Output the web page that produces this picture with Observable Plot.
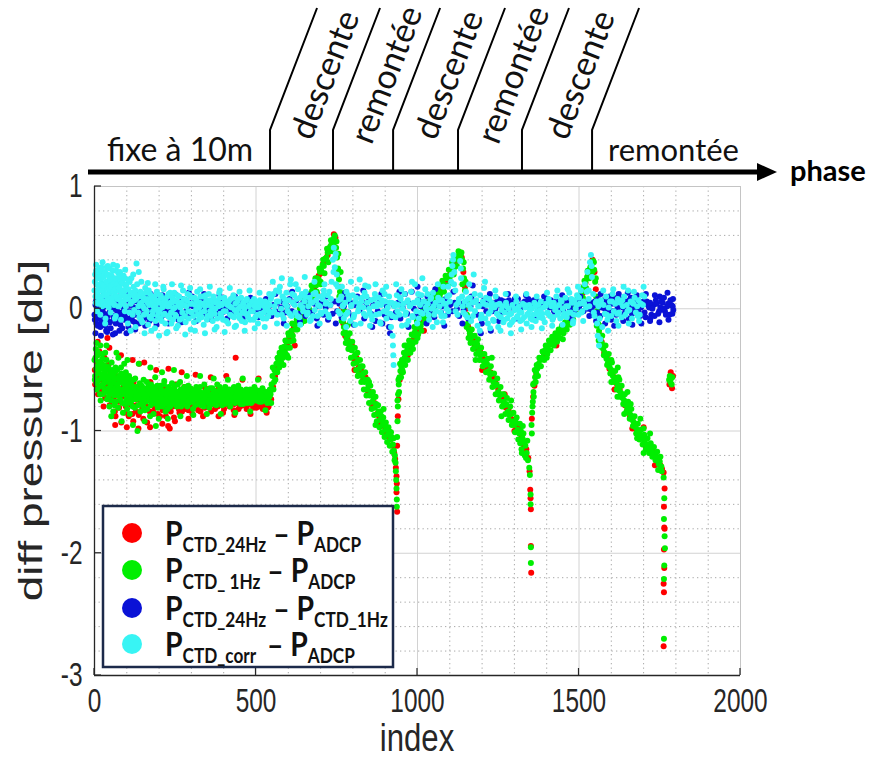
<!DOCTYPE html>
<html><head><meta charset="utf-8">
<script src="https://cdn.jsdelivr.net/npm/d3@7"></script>
<script src="https://cdn.jsdelivr.net/npm/@observablehq/plot@0.6"></script>
<style>body{margin:0;background:#fff;overflow:hidden}</style>
</head><body><div id="chart"></div>
<script>
// ---- axis / layout values ----
const xTicks = [0, 500, 1000, 1500, 2000];
const yTicks = [-3, -2, -1, 0, 1];
const xMinor = [100,200,300,400,600,700,800,900,1100,1200,1300,1400,1600,1700,1800,1900];
const yMinor = [-2.8,-2.6,-2.4,-2.2,-1.8,-1.6,-1.4,-1.2,-0.8,-0.6,-0.4,-0.2,0.2,0.4,0.6,0.8];
const phaseBounds = [545, 740, 926, 1127, 1325, 1542];
const phaseNames = ["fixe à 10m","descente","remontée","descente","remontée","descente","remontée"];
const seriesColors = ["#ff0000", "#00ee00", "#0a12d6", "#38f4f4"];

// ---- P_CTD_24Hz - P_ADCP (red) ----
const redPts = [[1,-0.50],[5,-0.60],[9,-0.36],[13,-0.57],[17,-0.66],[21,-0.45],[26,-0.55],[31,-0.40],[35,-0.63],[40,-0.24],[45,-0.66],[49,-0.52],[54,-0.74],[58,-0.61],[63,-0.84],[67,-0.55],[72,-0.67],[76,-0.81],[81,-0.59],[85,-0.72],[90,-0.64],[94,-0.85],[99,-0.68],[103,-0.57],[108,-0.76],[113,-0.66],[117,-0.86],[121,-0.60],[125,-0.72],[129,-0.79],[134,-0.64],[139,-0.45],[143,-0.75],[148,-0.82],[153,-0.67],[158,-0.74],[163,-0.93],[168,-0.68],[173,-0.60],[178,-0.78],[183,-0.85],[188,-0.70],[193,-0.64],[198,-0.77],[203,-0.88],[208,-0.71],[213,-0.65],[218,-0.79],[223,-0.72],[228,-0.96],[233,-0.98],[238,-0.67],[243,-0.80],[248,-0.73],[253,-0.62],[258,-0.77],[263,-0.85],[268,-0.69],[273,-0.75],[278,-0.64],[283,-0.82],[288,-0.71],[293,-0.78],[298,-0.68],[303,-0.86],[308,-0.74],[313,-0.66],[318,-0.79],[323,-0.72],[328,-0.84],[333,-0.70],[338,-0.76],[343,-0.65],[348,-0.80],[353,-0.73],[358,-0.68],[363,-0.78],[368,-0.71],[373,-0.82],[378,-0.74],[383,-0.66],[388,-0.79],[393,-0.72],[398,-0.85],[403,-0.70],[408,-0.77],[413,-0.67],[418,-0.80],[423,-0.73],[428,-0.69],[433,-0.78],[437,-0.40],[441,-0.71],[446,-0.82],[451,-0.74],[456,-0.68],[461,-0.79],[466,-0.72],[471,-0.80],[476,-0.70],[481,-0.77],[486,-0.67],[491,-0.81],[496,-0.73],[501,-0.78],[506,-0.70],[511,-0.80],[516,-0.74],[521,-0.68],[526,-0.79],[531,-0.72],[536,-0.81],[541,-0.75],
[547,-0.74],[553,-0.64],[559,-0.55],[565,-0.49],[571,-0.45],[577,-0.41],[583,-0.38],[589,-0.33],[596,-0.29],[603,-0.24],[610,-0.20],[617,-0.15],[624,-0.12],[631,-0.08],[638,-0.04],[645,-0.02],[652,0.04],[659,0.05],[666,0.08],[673,0.13],[680,0.16],[687,0.22],[694,0.27],[701,0.29],[708,0.37],[715,0.39],[722,0.44],[729,0.50],[736,0.55],[741,0.61],
[746,0.58],[750,0.45],[755,0.30],[760,0.18],[765,0.00],[770,-0.12],[776,-0.22],[783,-0.25],[790,-0.31],[797,-0.30],[804,-0.41],[811,-0.40],[818,-0.48],[825,-0.50],[832,-0.58],[839,-0.56],[846,-0.67],[853,-0.68],[860,-0.79],[867,-0.77],[874,-0.86],[881,-0.88],[888,-0.93],[895,-0.96],[902,-1.01],[909,-1.04],[916,-1.07],[922,-1.12],[928,-1.18],[931,-1.23],[933,-1.30],[935,-1.37],[935,-1.50],[936,-1.43],[937,-1.66],
[937,-1.12],[939,-0.88],[941,-0.74],[945,-0.58],[951,-0.52],[957,-0.45],[963,-0.41],[970,-0.38],[977,-0.32],[984,-0.26],[991,-0.24],[998,-0.17],[1006,-0.16],[1014,-0.10],[1022,-0.08],[1030,-0.03],[1038,0.03],[1046,0.04],[1054,0.10],[1062,0.10],[1070,0.16],[1078,0.17],[1086,0.23],[1094,0.24],[1102,0.29],[1110,0.34],[1118,0.38],[1126,0.41],[1132,0.46],
[1137,0.42],[1142,0.30],[1147,0.18],[1152,0.00],[1157,-0.15],[1163,-0.22],[1170,-0.26],[1178,-0.30],[1186,-0.33],[1194,-0.35],[1202,-0.41],[1210,-0.43],[1218,-0.49],[1226,-0.52],[1234,-0.57],[1242,-0.61],[1250,-0.66],[1258,-0.73],[1266,-0.74],[1274,-0.81],[1282,-0.83],[1290,-0.90],[1298,-0.91],[1306,-0.97],[1314,-0.98],[1322,-1.05],[1330,-1.12],[1337,-1.15],[1343,-1.22],[1347,-1.33],[1349,-1.48],[1350,-1.55],[1351,-1.64],[1351,-1.94],[1352,-2.16],
[1354,-0.90],[1358,-0.72],[1362,-0.63],[1368,-0.54],[1376,-0.47],[1384,-0.41],[1392,-0.38],[1400,-0.34],[1408,-0.29],[1416,-0.28],[1424,-0.23],[1432,-0.23],[1440,-0.18],[1448,-0.19],[1456,-0.13],[1464,-0.12],[1472,-0.06],[1480,-0.06],[1488,0.02],[1496,0.03],[1504,0.11],[1512,0.13],[1520,0.21],[1528,0.29],[1536,0.33],[1542,0.40],
[1548,0.30],[1552,0.16],[1557,-0.05],[1563,-0.21],[1570,-0.27],[1578,-0.36],[1586,-0.40],[1594,-0.49],[1602,-0.52],[1610,-0.56],[1618,-0.62],[1626,-0.66],[1634,-0.72],[1642,-0.79],[1650,-0.82],[1658,-0.88],[1666,-0.90],[1674,-0.98],[1682,-1.00],[1690,-1.05],[1698,-1.06],[1706,-1.12],[1714,-1.12],[1722,-1.18],[1730,-1.17],[1738,-1.22],[1746,-1.24],[1752,-1.28],[1757,-1.31],
[1762,-1.34],[1765,-1.47],[1763,-1.62],[1764,-1.79],[1765,-1.80],[1763,-1.97],[1764,-2.12],[1762,-2.25],[1763,-2.32],[1762,-2.76],
[1780,-0.62],[1784,-0.52],[1788,-0.65],[1791,-0.55]];
const redPts2 = [[2,-0.62],[7,-0.44],[11,-0.70],[15,-0.35],[19,-0.58],[24,-0.68],[29,-0.49],[33,-0.73],[38,-0.56],[43,-0.46],[47,-0.79],[52,-0.64],[56,-0.57],[61,-0.72],[65,-0.88],[70,-0.60],[74,-0.76],[79,-0.66],[83,-0.93],[88,-0.70],[92,-0.61],[97,-0.80],[101,-0.72],[106,-0.88],[111,-0.62],[115,-0.79],[120,-0.92],[124,-0.67],[128,-0.84],[132,-0.74],[137,-0.87],[141,-0.69],[146,-0.78],[151,-0.90],[156,-0.72],[161,-0.80],[166,-0.66],[171,-0.84],[176,-0.74],[181,-0.68],[186,-0.81],[191,-0.75],[196,-0.86],[201,-0.70],[206,-0.79],[211,-0.83],[216,-0.71],[221,-0.88],[226,-0.76],[231,-0.69],[236,-0.84],[241,-0.74],[246,-0.89],[251,-0.78],[256,-0.70],[261,-0.82],[266,-0.76],[271,-0.84],[276,-0.72],[281,-0.79],[286,-0.74],[291,-0.83],[296,-0.70],[301,-0.79],[311,-0.77],[321,-0.83],[331,-0.74],[341,-0.81],[351,-0.77],[361,-0.84],[371,-0.76],[381,-0.80],[391,-0.75],[401,-0.82],[411,-0.78],[421,-0.74],[431,-0.83],[441,-0.77],[451,-0.80],[461,-0.75],[471,-0.82],[481,-0.78],[491,-0.76],[501,-0.81],[511,-0.77],[521,-0.82],[531,-0.78],[539,-0.80]];
const redPts3 = [[10,-0.27],[28,-0.80],[46,-0.32],[64,-0.95],[82,-0.38],[100,-0.97],[118,-0.42],[136,-0.98],[154,-0.44],[172,-0.97],[191,-0.50],[210,-0.94],[229,-0.49],[249,-0.92],[270,-0.52],[291,-0.90],[313,-0.54],[336,-0.88],[360,-0.56],[384,-0.88],[408,-0.55],[433,-0.87],[458,-0.58],[483,-0.86],[508,-0.57],[533,-0.85],
[620,-0.30],[690,0.12],[805,-0.50],[880,-0.95],[1020,-0.18],[1200,-0.50],[1270,-0.70],[1300,-1.00],[1430,-0.30],[1610,-0.66],[1665,-0.98],[1700,-0.97],[1735,-1.28]];

// ---- P_CTD_1Hz - P_ADCP (green) ----
const greenPts = [[0,-0.42],[2,-0.55],[4,-0.33],[6,-0.61],[8,-0.47],[10,-0.38],[12,-0.52],[14,-0.64],[16,-0.44],[18,-0.30],[20,-0.57],[22,-0.49],[25,-0.41],[27,-0.62],[30,-0.53],[33,-0.36],[36,-0.68],[38,-0.47],[41,-0.58],[44,-0.72],[47,-0.51],[50,-0.63],[53,-0.44],[56,-0.69],[59,-0.56],[62,-0.79],[65,-0.48],[68,-0.62],[71,-0.71],[74,-0.40],[77,-0.58],[80,-0.66],[83,-0.53],[86,-0.77],[89,-0.61],[92,-0.45],[95,-0.70],[98,-0.58],[101,-0.82],[104,-0.64],[107,-0.55],[110,-0.73],[114,-0.62],[118,-0.80],[122,-0.67],[126,-0.57],[130,-0.74],[133,-1.00],[136,-0.69],[140,-0.61],[144,-0.78],[148,-0.70],[152,-0.58],[156,-0.83],[160,-0.66],[164,-0.74],[168,-0.62],[172,-0.88],[176,-0.71],[180,-0.64],[184,-0.77],[188,-0.56],[192,-0.69],[196,-0.81],[200,-0.73],[204,-0.63],[208,-0.76],[212,-0.68],[216,-0.59],[220,-0.84],[224,-0.72],[228,-0.65],[232,-0.78],[236,-0.70],[240,-0.61],[245,-0.75],[250,-0.67],[255,-0.80],[260,-0.71],[265,-0.60],[270,-0.74],[275,-0.66],[280,-0.78],[285,-0.70],[290,-0.63],[295,-0.76],[300,-0.69],[305,-0.82],[310,-0.72],[315,-0.64],[320,-0.75],[325,-0.68],[330,-0.79],[335,-0.71],[340,-0.62],[345,-0.76],[350,-0.69],[355,-0.81],[360,-0.73],[365,-0.65],[370,-0.77],[375,-0.70],[380,-0.62],[385,-0.74],[390,-0.67],[395,-0.79],[400,-0.71],[405,-0.64],[410,-0.76],[415,-0.68],[420,-0.80],[425,-0.72],[430,-0.65],[435,-0.77],[440,-0.70],[445,-0.63],[450,-0.75],[455,-0.68],[460,-0.78],[465,-0.71],[470,-0.66],[475,-0.74],[480,-0.69],[485,-0.77],[490,-0.70],[495,-0.64],[500,-0.73],[505,-0.68],[510,-0.76],[515,-0.70],[520,-0.65],[525,-0.74],[530,-0.69],[535,-0.77],[540,-0.71],
[545,-0.70],[548,-0.62],[551,-0.55],[554,-0.66],[557,-0.50],[560,-0.58],[563,-0.45],[566,-0.52],[569,-0.42],[572,-0.48],[575,-0.38],[578,-0.44],[581,-0.35],[584,-0.40],[587,-0.31],[590,-0.36],[594,-0.27],[598,-0.32],[602,-0.22],[606,-0.27],[610,-0.18],[614,-0.22],[618,-0.13],[622,-0.17],[626,-0.09],[630,-0.12],[634,-0.05],[638,-0.08],[642,-0.02],[646,0.00],[650,0.03],[654,0.01],[658,0.07],[662,0.05],[666,0.11],[670,0.09],[674,0.15],[678,0.14],[682,0.20],[686,0.19],[690,0.25],[694,0.24],[698,0.30],[702,0.31],[706,0.36],[710,0.35],[714,0.41],[718,0.42],[722,0.46],[726,0.47],[730,0.51],[734,0.53],[738,0.56],[742,0.58],[745,0.55],
[748,0.50],[751,0.42],[754,0.33],[757,0.24],[760,0.14],[763,0.05],[766,-0.04],[769,-0.10],[772,-0.15],[776,-0.19],[780,-0.24],[784,-0.22],[788,-0.29],[792,-0.27],[796,-0.34],[800,-0.32],[804,-0.39],[808,-0.37],[812,-0.44],[816,-0.42],[820,-0.49],[824,-0.47],[828,-0.55],[832,-0.53],[836,-0.60],[840,-0.58],[844,-0.66],[848,-0.63],[852,-0.71],[856,-0.69],[860,-0.76],[864,-0.73],[868,-0.81],[872,-0.78],[876,-0.86],[880,-0.84],[884,-0.91],[888,-0.88],[892,-0.95],[896,-0.93],[900,-0.99],[904,-0.97],[908,-1.03],[912,-1.00],[916,-1.07],[920,-1.05],[924,-1.11],[927,-1.16],[930,-1.20],[932,-1.26],[933,-1.33],[934,-1.40],[935,-1.47],[936,-1.56],[936,-1.62],
[937,-1.05],[938,-0.92],[939,-0.80],[940,-0.70],[942,-0.62],[944,-0.56],[947,-0.51],[950,-0.47],[953,-0.50],[956,-0.43],[960,-0.40],[964,-0.37],[968,-0.34],[972,-0.36],[976,-0.30],[980,-0.27],[984,-0.29],[988,-0.22],[992,-0.19],[996,-0.21],[1000,-0.15],[1005,-0.12],[1010,-0.14],[1015,-0.07],[1020,-0.05],[1025,-0.07],[1030,0.00],[1035,0.02],[1040,0.00],[1045,0.06],[1050,0.08],[1055,0.06],[1060,0.12],[1065,0.14],[1070,0.12],[1075,0.18],[1080,0.20],[1085,0.19],[1090,0.25],[1095,0.27],[1100,0.26],[1105,0.32],[1110,0.35],[1115,0.34],[1120,0.40],[1125,0.43],[1130,0.45],[1134,0.44],
[1138,0.40],[1141,0.33],[1144,0.25],[1147,0.15],[1150,0.05],[1153,-0.05],[1156,-0.12],[1159,-0.17],[1162,-0.20],[1166,-0.24],[1170,-0.22],[1175,-0.28],[1180,-0.31],[1185,-0.29],[1190,-0.35],[1195,-0.38],[1200,-0.37],[1205,-0.43],[1210,-0.46],[1215,-0.45],[1220,-0.51],[1225,-0.54],[1230,-0.53],[1235,-0.60],[1240,-0.63],[1245,-0.62],[1250,-0.68],[1255,-0.71],[1260,-0.70],[1265,-0.76],[1270,-0.79],[1275,-0.78],[1280,-0.84],[1285,-0.87],[1290,-0.86],[1295,-0.92],[1300,-0.95],[1305,-0.93],[1310,-0.99],[1315,-1.02],[1318,-1.10],[1320,-1.00],[1322,-1.15],[1325,-1.06],[1326,-0.96],[1330,-1.09],[1332,-1.20],[1334,-1.12],[1338,-1.18],[1342,-1.24],[1346,-1.30],[1348,-1.36],[1350,-1.52],[1350,-1.60],[1351,-1.95],[1351,-2.08],
[1353,-0.95],[1355,-0.85],[1357,-0.76],[1359,-0.68],[1361,-0.61],[1364,-0.56],[1367,-0.52],[1371,-0.49],[1375,-0.45],[1380,-0.42],[1385,-0.40],[1390,-0.36],[1395,-0.34],[1400,-0.32],[1405,-0.30],[1410,-0.29],[1415,-0.27],[1420,-0.25],[1425,-0.24],[1430,-0.22],[1435,-0.21],[1440,-0.19],[1445,-0.18],[1450,-0.16],[1455,-0.15],[1460,-0.13],[1465,-0.11],[1470,-0.09],[1475,-0.07],[1480,-0.05],[1485,-0.02],[1490,0.01],[1495,0.04],[1500,0.07],[1505,0.10],[1510,0.14],[1515,0.18],[1520,0.22],[1525,0.26],[1530,0.30],[1535,0.34],[1540,0.37],[1544,0.39],
[1547,0.32],[1550,0.22],[1553,0.10],[1556,-0.02],[1559,-0.12],[1562,-0.18],[1566,-0.24],[1570,-0.28],[1575,-0.33],[1580,-0.36],[1585,-0.41],[1590,-0.44],[1595,-0.48],[1600,-0.50],[1600,-0.42],[1605,-0.55],[1610,-0.57],[1615,-0.60],[1619,-0.72],[1620,-0.63],[1625,-0.67],[1625,-0.58],[1630,-0.69],[1635,-0.73],[1640,-0.75],[1640,-0.86],[1645,-0.79],[1650,-0.81],[1655,-0.85],[1660,-0.87],[1660,-0.78],[1665,-0.91],[1670,-0.93],[1675,-0.97],[1680,-0.99],[1680,-1.06],[1685,-1.02],[1690,-1.03],[1695,-1.06],[1700,-1.07],[1700,-0.98],[1705,-1.10],[1710,-1.11],[1715,-1.13],[1720,-1.15],[1725,-1.17],[1730,-1.18],[1735,-1.20],[1740,-1.21],[1745,-1.23],[1750,-1.25],[1755,-1.29],
[1762,-1.38],[1764,-1.55],[1763,-1.72],[1765,-1.86],[1766,-1.96],[1764,-2.10],[1763,-2.21],[1763,-2.70],
[1779,-0.58],[1781,-0.55],[1783,-0.60],[1785,-0.57],[1787,-0.62],[1789,-0.56]];
const greenPts2 = [[1,-0.58],[3,-0.40],[5,-0.49],[7,-0.66],[9,-0.35],[11,-0.59],[13,-0.45],[15,-0.53],[17,-0.70],[19,-0.43],[21,-0.63],[23,-0.37],[24,-0.55],[26,-0.70],[28,-0.46],[29,-0.58],[31,-0.66],[34,-0.50],[35,-0.60],[37,-0.42],[39,-0.74],[40,-0.55],[42,-0.65],[43,-0.48],[45,-0.60],[46,-0.80],[48,-0.56],[49,-0.68],[51,-0.53],[52,-0.75],[54,-0.61],[55,-0.50],[57,-0.66],[58,-0.84],[60,-0.59],[61,-0.71],[63,-0.52],[64,-0.65],[66,-0.76],[67,-0.57],[69,-0.68],[70,-0.50],[72,-0.63],[73,-0.81],[75,-0.66],[76,-0.55],[78,-0.72],[79,-0.60],[81,-0.75],[82,-0.48],[84,-0.69],[85,-0.58],[87,-0.66],[88,-0.85],[90,-0.70],[91,-0.55],[93,-0.62],[94,-0.78],[96,-0.66],[97,-0.52],[99,-0.74],[100,-0.63],[102,-0.70],[103,-0.59],[105,-0.77],[106,-0.67],[108,-0.62],[109,-0.86],[111,-0.68],[112,-0.58],[113,-0.76],[116,-0.71],[117,-0.64],[120,-0.74],[121,-0.58],[124,-0.69],[125,-0.81],[128,-0.64],[129,-0.72],[132,-0.68],[135,-0.79],[138,-0.66],[139,-0.73],[142,-0.84],[143,-0.70],[146,-0.63],[147,-0.75],[150,-0.68],[151,-0.80],[154,-0.72],[155,-0.65],[158,-0.76],[159,-0.69],[162,-0.60],[163,-0.82],[166,-0.71],[167,-0.66],[170,-0.75],[171,-0.68],[174,-0.79],[175,-0.62],[178,-0.70],[179,-0.74],[182,-0.67],[183,-0.86],[186,-0.72],[187,-0.65],[190,-0.78],[191,-0.70],[194,-0.63],[195,-0.75],[198,-0.68],[199,-0.90],[202,-0.71],[203,-0.77],[206,-0.66],[207,-0.73],[210,-0.80],[211,-0.69],[214,-0.75],[215,-0.62],[218,-0.70],[219,-0.78],[222,-0.67],[223,-0.74],[226,-0.82],[227,-0.71],[230,-0.64],[231,-0.76],[234,-0.69],[235,-0.80],[238,-0.73],[239,-0.66],[242,-0.77],[243,-0.70],[247,-0.64],[248,-0.78],[252,-0.71],[253,-0.75],[257,-0.68],[258,-0.62],[262,-0.77],[263,-0.72],[267,-0.66],[268,-0.80],[272,-0.70],[273,-0.76],[277,-0.73],[278,-0.64],[282,-0.69],[283,-0.75],[287,-0.80],[288,-0.67],[292,-0.72],[293,-0.77],[297,-0.65],[298,-0.74],[302,-0.70],[303,-0.76],[307,-0.67],[308,-0.73],[312,-0.79],[313,-0.70],[317,-0.66],[318,-0.74],[322,-0.71],[323,-0.78],[327,-0.64],[328,-0.73],[332,-0.69],[333,-0.76],[337,-0.72],[338,-0.80],[342,-0.68],[343,-0.74],[347,-0.66],[348,-0.72],[352,-0.77],[353,-0.70],[357,-0.74],[358,-0.65],[362,-0.71],[363,-0.78],[367,-0.69],[368,-0.74],[372,-0.67],[373,-0.72],[377,-0.79],[378,-0.71],[382,-0.68],[383,-0.75],[387,-0.70],[388,-0.64],[392,-0.76],[393,-0.71],[397,-0.68],[398,-0.74],[402,-0.66],[403,-0.78],[407,-0.72],[408,-0.69],[412,-0.74],[413,-0.70],[417,-0.66],[418,-0.77],[422,-0.71],[423,-0.68],[427,-0.75],[428,-0.70],[432,-0.64],[433,-0.73],[437,-0.69],[438,-0.76],[442,-0.72],[443,-0.67],[447,-0.74],[448,-0.70],[452,-0.78],[453,-0.66],[457,-0.72],[458,-0.69],[462,-0.75],[463,-0.70],[467,-0.67],[468,-0.74],[472,-0.71],[473,-0.77],[477,-0.68],[478,-0.72],[482,-0.66],[483,-0.74],[487,-0.70],[488,-0.76],[492,-0.68],[493,-0.73],[497,-0.71],[498,-0.66],[502,-0.75],[503,-0.70],[507,-0.72],[508,-0.67],[512,-0.74],[513,-0.69],[517,-0.76],[518,-0.71],[522,-0.67],[523,-0.73],[527,-0.70],[528,-0.75],[532,-0.68],[533,-0.72],[537,-0.74],[538,-0.69],[542,-0.72],[543,-0.66],
[547,-0.77],[552,-0.48],[556,-0.60],[561,-0.52],[567,-0.40],[573,-0.36],[579,-0.32],[585,-0.46],[591,-0.26],[596,-0.38],[600,-0.20],[605,-0.32],[612,-0.12],[616,-0.26],[624,-0.05],[628,-0.17],[636,0.00],[640,-0.12],[648,0.07],[652,-0.04],[660,0.12],[664,0.00],[672,0.19],[676,0.08],[684,0.25],[688,0.14],[696,0.33],[700,0.22],[708,0.40],[712,0.29],[720,0.49],[724,0.38],[732,0.56],[736,0.47],[740,0.52],[744,0.60],
[749,0.55],[752,0.28],[755,0.45],[758,0.10],[762,0.30],[765,-0.10],[768,0.12],[771,-0.20],[774,-0.02],[778,-0.28],[782,-0.14],[786,-0.33],[790,-0.20],[794,-0.40],[798,-0.27],[802,-0.45],[806,-0.32],[810,-0.50],[814,-0.36],[818,-0.54],[822,-0.42],[826,-0.60],[830,-0.47],[834,-0.66],[838,-0.52],[842,-0.71],[846,-0.58],[850,-0.77],[854,-0.63],[858,-0.82],[862,-0.68],[866,-0.87],[870,-0.72],[874,-0.92],[878,-0.79],[882,-0.97],[886,-0.84],[890,-1.01],[894,-0.89],[898,-1.05],[902,-0.93],[906,-1.09],[910,-0.97],[914,-1.12],[918,-1.01],[922,-1.17],[926,-1.06],[929,-1.24],
[938,-0.75],[941,-0.58],[943,-0.68],[946,-0.45],[949,-0.56],[952,-0.42],[955,-0.52],[958,-0.36],[962,-0.46],[966,-0.30],[970,-0.42],[974,-0.26],[978,-0.36],[982,-0.21],[986,-0.33],[990,-0.15],[994,-0.27],[998,-0.10],[1002,-0.21],[1007,-0.06],[1012,-0.18],[1017,-0.01],[1022,-0.11],[1027,0.03],[1032,-0.06],[1037,0.07],[1042,-0.04],[1047,0.11],[1052,0.02],[1057,0.16],[1062,0.06],[1067,0.19],[1072,0.08],[1077,0.23],[1082,0.14],[1087,0.27],[1092,0.19],[1097,0.32],[1102,0.21],[1107,0.38],[1112,0.28],[1117,0.42],[1122,0.35],[1127,0.47],[1132,0.40],
[1136,0.46],[1139,0.20],[1143,0.38],[1146,0.02],[1149,0.22],[1152,-0.15],[1155,0.05],[1158,-0.24],[1161,-0.10],[1164,-0.28],[1168,-0.17],[1172,-0.33],[1177,-0.22],[1182,-0.37],[1187,-0.25],[1192,-0.42],[1197,-0.32],[1202,-0.47],[1207,-0.37],[1212,-0.52],[1217,-0.41],[1222,-0.58],[1227,-0.47],[1232,-0.64],[1237,-0.53],[1242,-0.70],[1247,-0.57],[1252,-0.75],[1257,-0.64],[1262,-0.80],[1267,-0.70],[1272,-0.86],[1277,-0.73],[1282,-0.91],[1287,-0.80],[1292,-0.95],[1297,-0.85],[1302,-1.01],[1307,-0.89],[1312,-1.07],[1317,-0.94],[1323,-1.18],[1328,-1.02],[1336,-1.22],[1340,-1.08],
[1354,-1.02],[1356,-0.80],[1358,-0.62],[1360,-0.72],[1363,-0.50],[1366,-0.60],[1369,-0.46],[1373,-0.55],[1377,-0.40],[1382,-0.47],[1387,-0.35],[1392,-0.42],[1397,-0.30],[1402,-0.37],[1407,-0.26],[1412,-0.34],[1417,-0.23],[1422,-0.30],[1427,-0.20],[1432,-0.27],[1437,-0.17],[1442,-0.24],[1447,-0.14],[1452,-0.20],[1457,-0.11],[1462,-0.17],[1467,-0.07],[1472,-0.13],[1477,-0.03],[1482,-0.09],[1487,0.02],[1492,-0.04],[1497,0.09],[1502,0.03],[1507,0.15],[1512,0.09],[1517,0.23],[1522,0.17],[1527,0.31],[1532,0.25],[1537,0.38],[1541,0.30],
[1546,0.38],[1549,0.05],[1552,0.25],[1555,-0.14],[1558,0.02],[1561,-0.26],[1564,-0.14],[1568,-0.31],[1572,-0.22],[1577,-0.38],[1582,-0.30],[1587,-0.46],[1592,-0.37],[1597,-0.53],[1602,-0.44],[1607,-0.60],[1612,-0.51],[1617,-0.66],[1622,-0.56],[1627,-0.72],[1632,-0.63],[1637,-0.78],[1642,-0.70],[1647,-0.84],[1652,-0.76],[1657,-0.90],[1662,-0.82],[1667,-0.96],[1672,-0.88],[1677,-1.02],[1682,-0.94],[1687,-1.07],[1692,-0.99],[1697,-1.11],[1702,-1.03],[1707,-1.15],[1712,-1.06],[1717,-1.18],[1722,-1.10],[1727,-1.21],[1732,-1.13],[1737,-1.24],[1742,-1.17],[1747,-1.27],[1752,-1.21],[1756,-1.33]];
const greenPts3 = [[6,-0.28],[19,-0.75],[37,-0.30],[52,-0.88],[68,-0.36],[84,-0.92],[102,-0.42],[119,-0.95],[137,-0.45],[155,-0.92],[173,-0.48],[190,-0.96],[209,-0.52],[227,-0.90],[246,-0.50],[266,-0.88],[286,-0.55],[306,-0.87],[327,-0.55],[348,-0.86],[369,-0.57],[391,-0.86],[413,-0.58],[436,-0.85],[459,-0.57],[482,-0.84],[506,-0.58],[529,-0.83],
[600,-0.40],[650,-0.10],[700,0.20],[790,-0.12],[815,-0.55],[850,-0.60],[870,-0.95],[895,-0.82],[960,-0.30],[1000,-0.24],[1180,-0.42],[1230,-0.40],[1260,-0.88],[1290,-0.75],[1400,-0.40],[1450,-0.25],[1600,-0.60],[1620,-0.48],[1650,-0.68],[1700,-1.18],[1720,-1.02],[1690,-0.90],[1745,-1.32]];

// ---- P_CTD_24Hz - P_CTD_1Hz (blue) ----
const bluePts = [[0,-0.05],[3,0.03],[6,-0.12],[9,0.01],[12,-0.08],[15,0.05],[18,-0.15],[21,-0.02],[24,0.08],[27,-0.10],[30,-0.04],[33,0.02],[36,-0.18],[40,-0.06],[44,0.04],[48,-0.11],[52,-0.01],[56,0.07],[60,-0.08],[64,-0.20],[68,0.00],[72,-0.05],[76,0.10],[80,-0.13],[84,-0.03],[88,0.05],[92,-0.09],[96,0.12],[100,-0.02],[105,-0.15],[110,0.03],[115,-0.07],[120,0.06],[125,-0.11],[130,-0.01],[135,0.09],[140,-0.06],[145,0.02],[150,-0.09],[155,0.07],[160,-0.03],[165,0.11],[170,-0.10],[175,0.00],[180,0.05],[185,-0.07],[190,0.08],[195,-0.04],[200,0.03],[206,-0.08],[212,0.06],[218,-0.02],[224,0.09],[230,-0.06],[236,0.01],[242,0.07],[248,-0.05],[254,0.04],[260,-0.09],[266,0.02],[272,0.08],[278,-0.03],[284,0.05],[290,-0.07],[296,0.03],[302,0.10],[308,-0.04],[314,0.01],[320,0.06],[326,-0.06],[332,0.03],[338,0.08],[344,-0.02],[350,0.04],[356,-0.07],[362,0.02],[368,0.07],[374,-0.03],[380,0.05],[386,-0.05],[392,0.03],[398,0.06],[404,-0.02],[410,0.04],[416,0.00],[422,0.05],[428,-0.04],[434,0.02],[440,0.06],[446,-0.01],[452,0.03],[458,0.05],[464,-0.03],[470,0.02],[476,0.04],[482,0.00],[488,0.03],[494,-0.02],[500,0.02],[506,0.04],[512,-0.01],[518,0.02],[524,0.00],[530,-0.03],[536,0.01],[542,-0.02],[548,-0.06],[554,0.03],[560,-0.02],[566,0.05],[572,-0.04],[578,0.01],[584,0.06],[590,-0.03],[597,0.02],[604,0.08],[611,-0.02],[618,0.04],[625,0.07],[632,-0.04],[639,0.03],[646,0.05],[653,-0.06],[660,0.01],[667,0.06],[674,-0.03],[681,0.04],[688,-0.08],[695,0.02],[702,0.05],[709,-0.05],[716,0.01],[723,-0.09],[730,0.03],[737,-0.04],[744,0.06],[751,-0.02],[758,0.04],[765,-0.07],[772,0.02],[779,0.08],[786,-0.03],[793,0.05],[800,-0.06],[807,0.03],[814,0.10],[821,-0.01],[828,0.06],[835,-0.08],[842,0.02],[849,0.07],[856,-0.04],[863,0.03],[870,-0.10],[877,-0.02],[884,0.06],[891,-0.12],[898,-0.05],[905,0.02],[912,-0.15],[919,-0.07],[926,0.03],[933,-0.03],[940,0.05],[947,-0.08],[954,0.01],[961,0.12],[968,-0.04],[975,0.04],[982,0.14],[989,0.00],[996,-0.06],[1003,0.07],[1010,0.02],[1017,-0.03],[1024,0.05],[1031,0.10],[1038,-0.02],[1045,0.04],[1052,-0.07],[1059,0.03],[1066,0.06],[1073,-0.03],[1080,0.02],[1087,0.08],[1094,-0.05],[1101,0.03],[1108,-0.02],[1115,0.05],[1122,0.00],[1129,-0.06],[1136,0.04],[1143,-0.01],[1150,0.05],[1157,-0.08],[1164,0.02],[1171,0.19],[1178,0.06],[1185,-0.05],[1192,0.03],[1199,-0.12],[1206,0.07],[1213,-0.02],[1220,0.04],[1227,-0.18],[1234,0.05],[1241,0.00],[1248,0.08],[1255,0.03],[1262,-0.03],[1269,0.06],[1276,0.02],[1283,0.07],[1290,0.01],[1297,0.05],[1304,0.03],[1311,0.08],[1318,0.00],[1325,0.04],[1332,0.06],[1339,0.02],[1346,0.05],[1353,0.01],[1360,0.07],[1367,0.03],[1374,0.06],[1381,0.00],[1388,0.05],[1395,0.03],[1402,0.08],[1409,0.01],[1416,0.04],[1423,-0.02],[1430,0.06],[1437,0.02],[1444,0.05],[1451,-0.01],[1458,0.03],[1465,0.07],[1472,0.00],[1479,0.04],[1486,-0.03],[1493,0.05],[1500,0.01],[1507,0.06],[1514,-0.02],[1521,0.03],[1528,0.00],[1535,0.05],[1542,0.02],[1549,0.06],[1556,-0.03],[1563,0.04],[1570,0.01],[1577,0.07],[1584,-0.04],[1591,0.03],[1598,0.06],[1600,-0.09],[1605,-0.02],[1612,0.04],[1619,0.00],[1626,0.08],[1633,-0.05],[1640,0.02],[1647,0.06],[1654,-0.08],[1660,0.09],[1661,0.03],[1668,-0.02],[1675,0.05],[1682,0.00],[1689,-0.06],[1696,0.04],[1703,-0.03],[1710,0.06],[1717,0.01],[1720,-0.10],[1724,-0.05],[1731,0.03],[1738,0.07],[1745,-0.04],[1750,0.10],[1752,0.01],[1759,0.05],[1766,-0.02],[1773,0.02],[1774,0.13],[1780,-0.05],[1786,0.03],[1792,-0.01]];
const bluePts2 = [[1,-0.09],[4,0.06],[7,-0.03],[10,-0.14],[13,0.02],[16,-0.06],[19,0.04],[22,-0.11],[25,-0.01],[28,0.06],[31,-0.08],[34,-0.14],[38,0.03],[42,-0.10],[46,-0.03],[50,-0.16],[54,0.02],[58,-0.06],[62,0.05],[66,-0.12],[70,-0.02],[74,-0.09],[78,0.04],[82,-0.06],[86,-0.16],[90,0.01],[94,-0.05],[98,0.07],[102,-0.08],[108,-0.02],[113,0.05],[118,-0.10],[123,0.01],[128,-0.05],[133,0.06],[138,-0.12],[143,0.00],[148,0.08],[153,-0.04],[158,0.03],[163,-0.07],[168,0.05],[173,-0.02],[178,-0.08],[183,0.04],[188,-0.03],[193,0.06],[198,-0.06],[203,0.01],[209,0.05],[215,-0.05],[221,0.03],[227,-0.03],[233,0.07],[239,-0.07],[245,0.02],[251,0.06],[257,-0.02],[263,0.04],[269,-0.05],[275,0.03],[281,0.07],[287,-0.01],[293,0.05],[299,-0.04],[305,0.02],[311,0.07],[317,-0.03],[323,0.04],[329,0.00],[335,0.06],[341,-0.04],[347,0.02],[353,0.06],[359,-0.01],[365,0.04],[371,-0.04],[377,0.02],[383,0.06],[389,0.00],[395,-0.03],[401,0.05],[407,0.01],[413,0.03],[419,-0.03],[425,0.02],[431,0.05],[437,-0.02],[443,0.02],[449,0.00],[455,0.04],[461,-0.02],[467,0.03],[473,0.00],[479,0.05],[485,-0.01],[491,0.02],[497,0.04],[503,-0.02],[509,0.01],[515,0.03],[521,-0.02],[527,0.01],[533,-0.01],[539,0.02],
[1203,0.02],[1217,0.06],[1231,-0.02],[1245,0.04],[1259,0.07],[1273,-0.01],[1287,0.04],[1301,0.08],[1315,0.02],[1329,0.05],[1343,0.08],[1357,0.03],[1371,0.05],[1385,0.01],[1399,0.06],[1413,0.07],[1427,0.03],[1441,0.00],[1455,0.05],[1469,0.02],[1483,0.06],[1497,0.03],[1511,0.04],[1525,0.06],[1539,-0.01],
[1545,-0.04],[1552,0.03],[1559,0.08],[1566,-0.06],[1573,0.03],[1580,0.00],[1587,0.06],[1594,-0.02],[1601,0.04],[1608,0.09],[1615,-0.05],[1622,0.02],[1629,0.05],[1636,0.01],[1643,-0.03],[1650,0.04],[1657,0.07],[1664,-0.04],[1671,0.02],[1678,0.08],[1685,-0.03],[1692,0.01],[1699,0.06],[1706,-0.07],[1713,0.03],[1720,0.05],[1727,0.00],[1734,-0.06],[1741,0.04],[1748,-0.02],[1755,0.06],[1762,0.00],[1769,-0.05],[1776,0.04],[1783,0.07],[1789,-0.04],[1790,0.02]];
const bluePts3 = [[3,-0.20],[11,0.10],[20,-0.22],[29,0.12],[39,-0.19],[47,0.13],[57,-0.21],[67,0.09],[77,-0.18],[89,0.14],[99,-0.20],[112,0.10],[126,-0.17],[141,0.12],[157,-0.14],[174,0.12],[192,-0.13],[210,0.11],[229,-0.12],[249,0.12],[270,-0.11],[292,0.13],[315,-0.10],[339,0.12],[363,-0.09],[387,0.11],[411,-0.08],[435,0.10],[459,-0.08],[483,0.09],[507,-0.07],[531,0.08],
[560,0.12],[586,-0.12],[612,0.14],[636,-0.10],[663,0.11],[690,-0.14],[718,0.10],[747,-0.12],[776,0.13],[803,-0.13],[832,0.15],[860,-0.15],[888,0.12],[915,-0.20],[944,0.14],[972,-0.15],[1000,0.18],[1028,-0.12],[1055,0.16],[1083,-0.14],[1111,0.14],[1139,-0.12],[1167,0.10],[1196,-0.20],[1224,0.12],[1252,-0.10],[1280,0.12],[1308,-0.08],[1336,0.11],[1364,-0.06],[1392,0.10],[1420,-0.07],[1448,0.11],[1476,-0.08],[1504,0.10],[1532,-0.06],
[1553,-0.10],[1567,0.12],[1581,-0.12],[1595,0.10],[1609,-0.14],[1623,0.12],[1637,-0.10],[1651,0.13],[1665,-0.13],[1679,0.11],[1693,-0.12],[1707,0.12],[1721,-0.08],[1735,0.11],[1749,-0.11],[1763,0.09],[1777,-0.09],[1791,0.08]];

// ---- P_CTD_corr - P_ADCP (cyan) ----
const cyanPts = [[0,0.15],[2,0.28],[4,0.05],[6,0.20],[8,-0.02],[10,0.12],[12,0.32],[14,0.08],[16,0.18],[18,-0.05],[20,0.24],[22,0.10],[24,0.02],[26,0.30],[28,0.14],[30,0.06],[32,0.21],[34,-0.08],[36,0.17],[38,0.34],[40,0.09],[42,0.19],[44,0.01],[46,0.26],[48,0.13],[50,-0.03],[52,0.22],[54,0.07],[56,0.16],[58,0.36],[60,0.04],[62,0.19],[64,0.11],[66,-0.06],[68,0.23],[70,0.08],[72,0.15],[74,0.29],[76,0.02],[78,0.18],[80,0.10],[82,-0.09],[84,0.21],[86,0.12],[88,0.05],[90,0.27],[92,0.14],[94,-0.02],[96,0.19],[98,0.08],[100,0.16],[103,-0.12],[106,0.10],[109,0.22],[112,0.04],[115,0.13],[118,-0.05],[121,0.18],[124,0.07],[127,-0.15],[130,0.37],[133,0.11],[136,0.02],[139,-0.07],[142,0.14],[145,0.05],[148,-0.11],[151,0.09],[154,0.00],[157,0.17],[160,-0.04],[163,0.08],[166,-0.13],[169,0.03],[172,0.12],[175,-0.08],[178,0.06],[181,-0.02],[184,0.10],[187,-0.16],[190,0.04],[193,0.14],[196,-0.06],[199,0.07],[202,-0.01],[205,0.11],[208,-0.10],[211,0.03],[214,0.16],[217,-0.04],[220,0.08],[223,-0.20],[226,0.02],[229,0.12],[232,-0.07],[235,0.05],[238,-0.12],[241,0.09],[244,0.00],[247,0.13],[250,-0.05],[254,0.06],[258,-0.14],[262,0.10],[266,0.01],[270,-0.08],[274,0.15],[278,0.03],[282,-0.11],[286,0.07],[290,-0.02],[294,0.11],[298,-0.17],[302,0.04],[306,-0.06],[310,0.09],[314,-0.01],[318,0.14],[322,-0.09],[326,0.05],[330,-0.03],[334,0.10],[338,-0.13],[342,0.02],[346,0.07],[350,-0.06],[354,0.12],[358,-0.02],[362,0.05],[366,-0.10],[370,0.08],[374,0.00],[378,-0.15],[382,0.06],[386,0.13],[390,-0.04],[394,0.03],[398,-0.09],[402,0.09],[406,-0.02],[410,0.05],[414,-0.12],[418,0.02],[422,0.08],[426,-0.06],[430,0.11],[434,-0.01],[438,-0.14],[442,0.06],[446,0.00],[450,-0.08],[454,0.09],[458,-0.03],[462,0.04],[466,-0.11],[470,0.07],[474,-0.05],[478,0.02],[482,-0.09],[486,0.05],[490,-0.02],[494,0.08],[498,-0.07],[502,0.01],[506,-0.12],[510,0.04],[514,-0.04],[518,0.06],[522,-0.08],[526,0.02],[530,-0.01],[534,0.05],[538,-0.06],[542,0.03],
[546,0.08],[550,-0.03],[554,0.12],[558,0.02],[562,0.15],[566,-0.05],[570,0.06],[574,0.18],[578,0.00],[582,0.10],[586,-0.08],[590,0.04],[594,0.13],[598,-0.02],[602,0.07],[606,0.20],[610,-0.06],[614,0.05],[618,0.11],[622,-0.03],[626,0.08],[630,0.16],[634,-0.07],[638,0.03],[642,0.12],[646,-0.02],[650,0.06],[654,0.14],[658,-0.05],[662,0.02],[666,0.09],[670,-0.09],[674,0.05],[678,0.12],[682,-0.01],[686,0.07],[690,-0.06],[694,0.10],[698,0.02],[702,-0.04],[706,0.08],[710,0.15],[714,-0.02],[718,0.05],[722,0.11],[726,-0.07],[730,0.03],[734,0.22],[738,0.40],[741,0.50],[744,0.34],[747,0.45],[750,0.28],[753,0.18],[756,0.07],[760,-0.04],[764,0.10],[768,0.02],[772,-0.08],[776,0.05],[780,0.14],[784,-0.03],[788,0.08],[792,-0.10],[796,0.03],[800,0.11],[804,-0.05],[808,0.06],[812,0.16],[816,-0.02],[820,0.04],[824,-0.12],[828,0.09],[832,0.01],[836,0.13],[840,-0.06],[844,0.05],[848,0.18],[852,-0.03],[856,0.07],[860,-0.09],[864,0.02],[868,0.12],[872,-0.05],[876,0.04],[880,0.09],[884,-0.11],[888,0.03],[892,0.15],[896,-0.02],[900,0.06],[904,-0.08],[908,0.01],[912,0.10],[916,-0.04],[920,0.05],[923,-0.22],[924,-0.30],[925,-0.38],[926,-0.46],[928,0.02],[932,-0.07],[936,0.11],[940,0.03],[944,-0.05],[948,0.08],[952,-0.14],[956,0.04],[960,0.12],[964,-0.03],[968,0.06],[972,-0.10],[976,0.02],[980,0.14],[984,-0.06],[988,0.05],[992,0.20],[996,-0.02],[1000,0.07],[1004,-0.08],[1008,0.03],[1012,0.11],[1016,-0.04],[1020,0.06],[1024,0.16],[1028,-0.01],[1032,0.04],[1036,-0.09],[1040,0.08],[1044,0.00],[1048,0.13],[1052,-0.05],[1056,0.05],[1060,-0.11],[1064,0.09],[1068,0.02],[1072,-0.03],[1076,0.07],[1080,0.18],[1084,-0.06],[1088,0.04],[1092,0.10],[1096,-0.02],[1100,0.06],[1104,0.22],[1108,0.35],[1111,0.44],[1114,0.30],[1117,0.15],[1120,0.03],[1124,-0.05],[1128,0.08],[1132,0.39],[1135,0.25],[1138,0.10],[1142,-0.03],[1146,0.06],[1150,0.14],[1154,-0.07],[1158,0.03],[1162,0.09],[1166,-0.10],[1170,0.05],[1174,0.28],[1178,-0.02],[1182,0.07],[1186,-0.14],[1190,0.02],[1194,0.11],[1198,-0.05],[1202,0.06],[1206,0.17],[1210,-0.08],[1214,0.03],[1218,-0.12],[1222,0.08],[1226,-0.02],[1230,0.05],[1234,-0.09],[1238,0.01],[1242,0.10],[1246,-0.04],[1250,-0.15],[1254,0.04],[1258,-0.07],[1262,0.02],[1266,-0.11],[1270,-0.03],[1274,0.05],[1278,-0.08],[1282,0.00],[1286,-0.13],[1290,-0.04],[1294,0.03],[1298,-0.09],[1302,-0.01],[1306,0.06],[1310,-0.06],[1314,0.02],[1318,-0.10],[1322,-0.03],[1326,0.04],[1330,-0.07],[1334,0.01],[1338,-0.12],[1342,-0.04],[1346,0.03],[1350,-0.08],[1354,0.00],[1358,-0.05],[1362,0.05],[1366,-0.10],[1370,-0.02],[1374,0.03],[1378,-0.07],[1382,0.06],[1386,-0.04],[1390,0.01],[1394,-0.11],[1398,0.04],[1402,-0.03],[1406,0.08],[1410,-0.06],[1414,0.02],[1418,-0.09],[1422,0.05],[1426,-0.01],[1430,0.10],[1434,-0.05],[1438,0.03],[1442,-0.08],[1446,0.06],[1450,0.00],[1454,-0.04],[1458,0.09],[1462,-0.07],[1466,0.02],[1470,0.13],[1474,-0.03],[1478,0.05],[1482,-0.10],[1486,0.07],[1490,0.00],[1494,0.11],[1498,-0.05],[1502,0.04],[1506,0.15],[1510,-0.02],[1514,0.06],[1518,0.20],[1522,0.01],[1526,0.30],[1530,0.08],[1534,0.38],[1537,0.44],[1540,0.26],[1544,0.12],[1548,-0.06],[1552,0.05],[1556,-0.12],[1558,-0.22],[1560,0.02],[1562,-0.30],[1564,-0.08],[1566,-0.25],[1568,0.07],[1572,-0.15],[1576,0.03],[1580,-0.04],[1584,0.10],[1588,-0.09],[1592,0.01],[1596,0.06],[1600,-0.06],[1604,0.12],[1608,-0.02],[1612,0.04],[1616,-0.10],[1620,0.08],[1624,-0.03],[1628,0.05],[1632,-0.07],[1636,0.02],[1640,0.10],[1644,-0.05],[1648,0.03],[1652,0.15],[1656,-0.01],[1660,0.06],[1664,-0.08],[1668,0.04],[1672,0.09],[1676,-0.03],[1680,0.02],[1684,0.07],[1688,-0.05],[1692,0.04],[1696,0.11],[1700,0.18]];
const cyanPts2 = [[1,0.22],[3,0.10],[5,0.31],[7,0.14],[9,0.25],[11,0.04],[13,0.17],[15,0.27],[17,0.08],[19,0.20],[21,0.34],[23,0.15],[25,0.06],[27,0.19],[29,0.26],[31,0.11],[33,0.30],[35,0.03],[37,0.22],[39,0.12],[41,0.28],[43,0.07],[45,0.16],[47,0.33],[49,0.05],[51,0.18],[53,0.27],[55,0.09],[57,0.22],[59,0.14],[61,0.03],[63,0.25],[65,0.16],[67,0.31],[69,0.10],[71,0.20],[73,0.02],[75,0.17],[77,0.26],[79,0.07],[81,0.23],[83,0.13],[85,0.04],[87,0.21],[89,0.15],[91,0.06],[93,0.25],[95,0.10],[97,0.02],[99,0.20],[102,0.08],[105,0.16],[108,-0.03],[111,0.13],[114,0.25],[117,0.06],[120,0.11],[123,-0.01],[126,0.15],[129,0.08],[132,0.20],[135,-0.03],[138,0.10],[141,0.04],[144,-0.09],[147,0.12],[150,0.02],[153,-0.05],[156,0.07],[159,0.13],[162,-0.02],[165,0.05],[168,0.15],[171,-0.07],[174,0.04],[177,0.10],[180,-0.05],[183,0.02],[186,0.08],[189,-0.10],[192,0.00],[195,0.12],[198,-0.03],[201,0.05],[204,-0.08],[207,0.09],[210,0.01],[213,-0.05],[216,0.06],[219,-0.12],[222,0.04],[225,0.10],[228,-0.06],[231,0.02],[234,0.13],[237,-0.03],[240,0.05],[243,-0.09],[246,0.07],[249,0.01],[252,-0.06],[256,0.11],[260,0.03],[264,-0.09],[268,0.05],[272,-0.03],[276,0.08],[280,-0.06],[284,0.02],[288,0.12],[292,-0.08],[296,0.04],[300,-0.03],[304,0.09],[308,-0.11],[312,0.03],[316,0.07],[320,-0.05],[324,0.01],[328,0.10],[332,-0.07],[336,0.04],[340,-0.02],[344,0.11],[348,-0.09],[352,0.03],[356,0.07],[360,-0.06],[364,0.01],[368,0.10],[372,-0.04],[376,0.05],[380,-0.08],[384,0.02],[388,0.09],[392,-0.06],[396,0.04],[400,-0.02],[404,0.07],[408,-0.10],[412,0.03],[416,0.06],[420,-0.05],[424,0.01],[428,0.09],[432,-0.07],[436,0.04],[440,-0.03],[444,0.08],[448,-0.06],[452,0.02],[456,-0.10],[460,0.05],[464,0.00],[468,-0.04],[472,0.08],[476,-0.07],[480,0.03],[484,-0.02],[488,0.06],[492,-0.09],[496,0.02],[500,0.05],[504,-0.05],[508,0.01],[512,0.07],[516,-0.06],[520,0.03],[524,-0.03],[528,0.06],[532,-0.08],[536,0.01],[540,-0.02],
[548,0.10],[556,-0.02],[564,0.06],[572,0.14],[580,-0.05],[588,0.08],[596,0.02],[604,-0.04],[612,0.12],[620,0.03],[628,-0.06],[636,0.09],[644,0.01],[652,0.10],[660,-0.03],[668,0.06],[676,-0.06],[684,0.13],[692,0.03],[700,-0.03],[708,0.11],[716,0.04],[724,-0.05],[732,0.08],[740,0.30],[745,0.42],[748,0.20],[755,-0.02],[762,0.08],[770,0.03],[778,-0.05],[786,0.11],[794,0.02],[802,-0.07],[810,0.09],[818,0.01],[826,0.06],[834,-0.04],[842,0.10],[850,0.00],[858,-0.06],[866,0.08],[874,0.02],[882,-0.04],[890,0.07],[898,0.12],[906,-0.03],[914,0.05],[922,-0.06],[930,0.04],[938,-0.02],[946,0.09],[954,0.00],[962,-0.05],[970,0.07],[978,0.03],[986,-0.07],[994,0.05],[1002,0.12],[1010,-0.03],[1018,0.06],[1026,0.01],[1034,-0.05],[1042,0.09],[1050,0.02],[1058,-0.02],[1066,0.07],[1074,-0.06],[1082,0.04],[1090,0.00],[1098,0.11],[1106,0.28],[1110,0.40],[1113,0.20],[1118,-0.02],[1126,0.05],[1134,0.33],[1140,0.02],[1148,-0.05],[1156,0.08],[1164,0.00],[1172,-0.06],[1180,0.06],[1188,0.02],[1196,-0.08],[1204,0.04],[1212,0.09],[1220,-0.04],[1228,0.02],[1236,-0.10],[1244,0.03],[1252,-0.06],[1260,-0.01],[1268,-0.09],[1276,0.02],[1284,-0.05],[1292,-0.11],[1300,0.00],[1308,-0.07],[1316,-0.02],[1324,-0.09],[1332,0.03],[1340,-0.05],[1348,-0.01],[1356,-0.09],[1364,0.02],[1372,-0.05],[1380,-0.01],[1388,-0.08],[1396,0.02],[1404,-0.04],[1412,0.05],[1420,-0.07],[1428,0.01],[1436,-0.03],[1444,0.07],[1452,-0.06],[1460,0.02],[1468,-0.03],[1476,0.08],[1484,-0.05],[1492,0.03],[1500,0.09],[1508,-0.03],[1516,0.04],[1524,0.14],[1532,0.02],[1539,0.35],[1546,-0.03],[1554,0.06],[1570,0.04],[1586,-0.05],[1602,0.06],[1618,-0.04],[1634,0.07],[1650,-0.02],[1666,0.05],[1682,-0.06],[1698,0.03]];
const cyanPts3 = [[5,0.36],[12,0.30],[18,0.33],[25,0.38],[33,-0.12],[41,0.35],[48,0.24],[56,0.31],[63,-0.08],[70,0.35],[79,0.30],[86,0.27],[95,0.32],[104,0.24],[112,-0.18],[120,0.28],[137,0.30],[145,0.22],[155,-0.20],[165,0.21],[176,-0.18],[188,0.20],[200,-0.22],[213,0.18],[226,-0.19],[240,0.20],[253,-0.16],[268,0.19],[281,-0.21],[296,0.17],[311,-0.18],[327,0.16],[342,-0.20],[357,0.18],[372,-0.17],[388,0.15],[403,-0.19],[419,0.17],[434,-0.15],[449,0.14],[465,-0.18],[480,0.15],[496,-0.16],[511,0.13],[527,-0.15],[541,0.12],
[552,0.22],[565,-0.12],[580,0.25],[595,-0.14],[608,0.24],[623,0.20],[637,-0.13],[651,0.26],[667,-0.10],[681,0.22],[697,-0.12],[712,0.20],[727,0.14],[766,0.18],[779,-0.15],[794,0.22],[807,-0.13],[821,0.24],[838,0.19],[853,-0.14],[870,0.20],[886,-0.12],[903,0.18],[918,-0.15],[934,0.20],[950,0.16],[966,-0.13],[983,0.22],[999,-0.12],[1015,0.25],[1031,0.12],[1047,-0.15],[1063,0.20],[1079,-0.11],[1095,0.18],[1160,0.20],[1177,0.12],[1193,-0.18],[1209,0.22],[1225,-0.16],[1241,0.15],[1257,-0.18],[1273,0.12],[1289,-0.20],[1305,0.10],[1321,-0.17],[1337,0.12],[1353,-0.15],[1369,0.10],[1385,-0.16],[1401,0.13],[1417,-0.14],[1433,0.15],[1449,-0.13],[1465,0.16],[1481,-0.12],[1497,0.18],[1513,-0.10],[1530,0.15],
[1575,0.15],[1590,-0.18],[1606,0.16],[1622,-0.14],[1638,0.18],[1654,-0.12],[1670,0.14],[1686,-0.10],[1702,0.10]];

const seriesPts = [redPts.concat(redPts2, redPts3), greenPts.concat(greenPts2, greenPts3), bluePts.concat(bluePts2, bluePts3), cyanPts.concat(cyanPts2, cyanPts3)];
const rows = seriesPts.map(pts => pts.map(([i, v]) => ({i, v})));

const AX = "#262626";
const chart = Plot.plot({
  width: 872, height: 760,
  marginTop: 186, marginBottom: 85, marginLeft: 94, marginRight: 132,
  x: {domain: [0, 2000]},
  y: {domain: [-3, 1]},
  style: {background: "white", overflow: "visible", fontFamily: "Liberation Sans"},
  marks: [
    Plot.gridX(xMinor, {stroke: "#a8a8a8", strokeOpacity: 1, strokeWidth: 1, strokeDasharray: "1.3,3.2"}),
    Plot.gridY(yMinor, {stroke: "#a8a8a8", strokeOpacity: 1, strokeWidth: 1, strokeDasharray: "1.3,3.2"}),
    Plot.gridX(xTicks, {stroke: "#d2d2d2", strokeOpacity: 1}),
    Plot.gridY(yTicks, {stroke: "#d2d2d2", strokeOpacity: 1}),
    Plot.ruleY([1], {stroke: "#c4c4c4"}),
    Plot.ruleX([2000], {stroke: "#c4c4c4"}),
    ...rows.map((r, k) => Plot.dot(r, {x: "i", y: "v", r: 3, fill: seriesColors[k], stroke: "none"})),
    Plot.ruleY([-3], {stroke: AX, strokeWidth: 1.3}),
    Plot.ruleX([0], {stroke: AX, strokeWidth: 1.3}),
    Plot.axisX(xTicks, {tickSize: 0, tickPadding: 13, fontSize: 33, fill: AX, label: null, tickFormat: d => String(d)}),
    Plot.axisY(yTicks, {tickSize: 0, tickPadding: 12, fontSize: 33, fill: AX, label: null, tickFormat: d => String(d)})
  ]
});
document.getElementById("chart").appendChild(chart);

// squeeze tick labels horizontally (the reference's text is narrow)
chart.querySelectorAll('g[aria-label$="tick label"] text').forEach(t => {
  const tr = t.getAttribute("transform") || "";
  t.setAttribute("transform", tr + " scale(0.74,1)");
});

const X = chart.scale("x"), Y = chart.scale("y");
const xs = v => X.apply(v), ys = v => Y.apply(v);
const svg = d3.select(chart);
const x0 = xs(0), x1 = xs(2000), yb = ys(-3), yt = ys(1);

// inward ticks
const tk = svg.append("g").attr("stroke", AX).attr("stroke-width", 1.2);
xTicks.forEach(v => tk.append("line").attr("x1", xs(v)).attr("x2", xs(v)).attr("y1", yb).attr("y2", yb - 7));
yTicks.forEach(v => tk.append("line").attr("x1", x0).attr("x2", x0 + 7).attr("y1", ys(v)).attr("y2", ys(v)));

// axis titles
svg.append("text").attr("transform", `translate(${(x0 + x1) / 2},${yb + 76}) scale(0.82,1)`)
  .attr("text-anchor", "middle").attr("font-family", "Liberation Sans").attr("font-size", 38).attr("fill", AX).text("index");
svg.append("text").attr("transform", `translate(${x0 - 52},${(yb + yt) / 2}) rotate(-90) scale(1,0.74)`)
  .attr("text-anchor", "middle").attr("font-family", "Liberation Sans").attr("font-size", 46).attr("fill", AX).text("diff pressure [db]");

// phase header
const hd = svg.append("g").attr("text-anchor", "start");
const yArrow = 172, yKnee = 130, yTop = 8, slant = 47;
hd.append("line").attr("x1", 88).attr("x2", 762).attr("y1", yArrow).attr("y2", yArrow).attr("stroke", "#000").attr("stroke-width", 5);
hd.append("path").attr("d", `M757,${yArrow - 9}L777,${yArrow}L757,${yArrow + 9}Z`).attr("fill", "#000");
phaseBounds.forEach(b => {
  const px = xs(b);
  hd.append("path").attr("d", `M${px},${yArrow}V${yKnee}L${px + slant},${yTop}`).attr("fill", "none").attr("stroke", "#000").attr("stroke-width", 2);
});
const hfont = "Lato";
hd.append("text").attr("x", 107).attr("y", 161).attr("text-anchor", "start").attr("font-family", hfont).attr("font-size", 32).attr("fill", "#111").text(phaseNames[0]);
hd.append("text").attr("x", 608).attr("y", 161).attr("text-anchor", "start").attr("font-family", hfont).attr("font-size", 31).attr("fill", "#111").text(phaseNames[6]);
const ang = Math.atan2(yKnee - yTop, slant) * 180 / Math.PI;
for (let k = 0; k < 5; k++) {
  const yc = 74;
  const cx = (xs(phaseBounds[k]) + xs(phaseBounds[k + 1])) / 2 + slant * (yKnee - yc) / (yKnee - yTop);
  hd.append("text").attr("transform", `translate(${cx},${yc}) rotate(${-ang})`)
    .attr("text-anchor", "middle").attr("dominant-baseline", "central")
    .attr("font-family", hfont).attr("font-size", 34).attr("fill", "#111").text(phaseNames[k + 1]);
}
hd.append("text").attr("x", 790).attr("y", 181).attr("text-anchor", "start").attr("font-family", hfont).attr("font-weight", "bold").attr("font-size", 29).attr("fill", "#000").text("phase");

// legend: one text per row, subscripts as shifted tspans
const lg = svg.append("g");
lg.append("rect").attr("x", 103).attr("y", 506).attr("width", 290).attr("height", 161).attr("fill", "white").attr("stroke", "#1c2a4a").attr("stroke-width", 2.5);
const legendRows = [["CTD_24Hz", "ADCP"], ["CTD_\u00a01Hz", "ADCP"], ["CTD_24Hz", "CTD_1Hz"], ["CTD_corr\u00a0", "ADCP"]];
const rowY = [533, 570, 608, 644];
legendRows.forEach(([a, b], k) => {
  lg.append("circle").attr("cx", 132).attr("cy", rowY[k]).attr("r", 10).attr("fill", seriesColors[k]);
  const t = lg.append("text").attr("transform", `translate(165,${rowY[k] + 12}) scale(0.86,1)`).attr("text-anchor", "start")
    .attr("font-family", "Lato").attr("font-weight", "bold").attr("font-size", 33).attr("fill", "#111");
  t.append("tspan").text("P");
  t.append("tspan").attr("font-size", 20).attr("dy", 7).text(a);
  t.append("tspan").attr("dy", -7).text("\u00a0\u2013\u00a0P");
  t.append("tspan").attr("font-size", 20).attr("dy", 7).text(b);
});
</script>
</body></html>
